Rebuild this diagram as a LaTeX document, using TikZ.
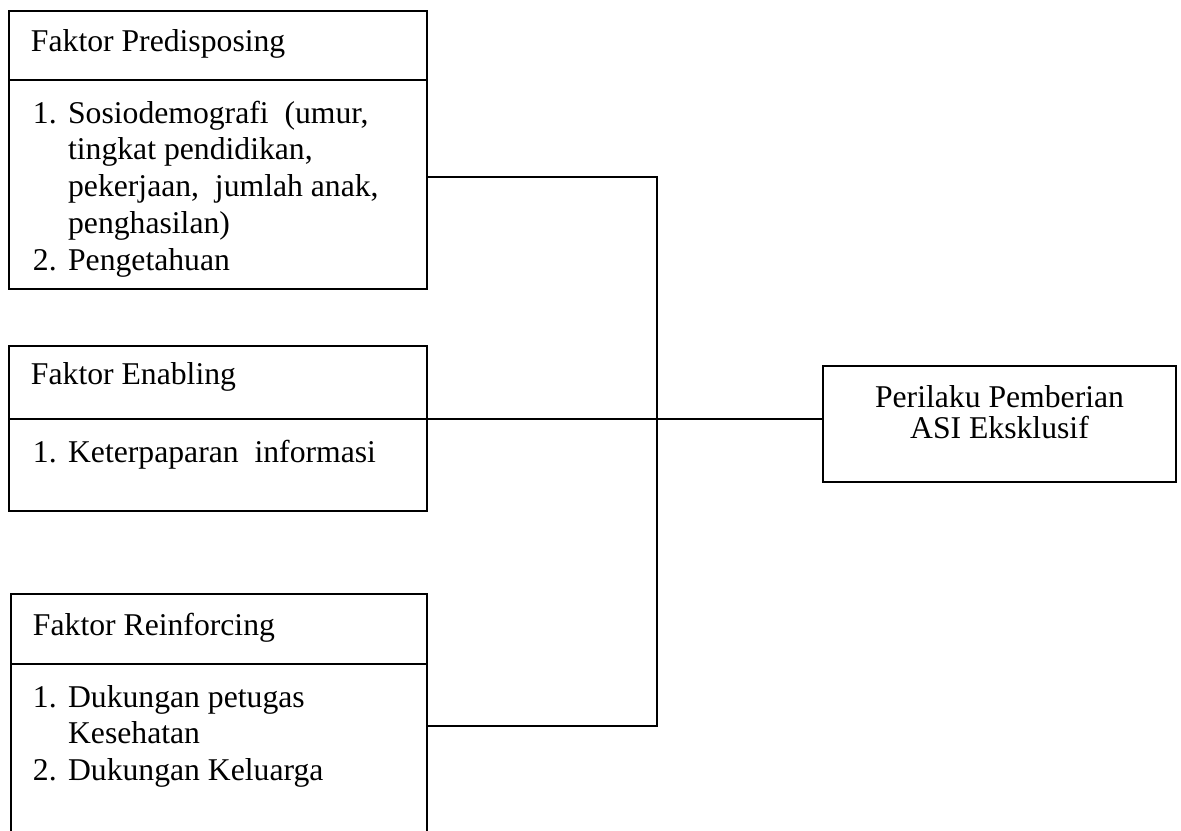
\documentclass[tikz,border=0pt]{standalone}
\usepackage{fontspec}
\setmainfont{Liberation Serif}
\usetikzlibrary{fit}

\newcommand{\nomor}[1]{\makebox[13.3pt][l]{#1}}

\begin{document}
\begin{tikzpicture}[x=0.3788pt, y=-0.3788pt, line width=0.75pt,
  font=\fontsize{12}{14}\selectfont,
  kotak/.style={draw, inner sep=0pt, fit={#1}},
  teks/.style={anchor=base west, inner sep=0pt}]
\useasboundingbox (0,0) rectangle (1181,830);
\clip (0,0) rectangle (1181,830);

\node [kotak={(9,11) (427,289)}] (pred) {};
\draw (pred.west |- 0,80) -- (pred.east |- 0,80);
\node [teks] (predJudul) at (30,51) {Faktor Predisposing};
\node [teks] (predIsi) at (32,123) {\begin{tabular}[t]{@{}l@{}}
  \nomor{1.}Sosiodemografi\ \ (umur,\\
  \nomor{}tingkat pendidikan,\\
  \nomor{}pekerjaan,\ \ jumlah anak,\\
  \nomor{}penghasilan)\\
  \nomor{2.}Pengetahuan
\end{tabular}};

\node [kotak={(9,346) (427,511)}] (enab) {};
\draw (enab.west |- 0,419) -- (enab.east |- 0,419);
\node [teks] (enabJudul) at (30,384) {Faktor Enabling};
\node [teks] (enabIsi) at (32,462) {\nomor{1.}Keterpaparan\ \ informasi};

\node [kotak={(11,594) (427,840)}] (reinf) {};
\draw (reinf.west |- 0,664) -- (reinf.east |- 0,664);
\node [teks] (reinfJudul) at (32,635) {Faktor Reinforcing};
\node [teks] (reinfIsi) at (32,707) {\begin{tabular}[t]{@{}l@{}}
  \nomor{1.}Dukungan petugas\\
  \nomor{}Kesehatan\\
  \nomor{2.}Dukungan Keluarga
\end{tabular}};

\node [kotak={(823,366) (1176,482)}] (perilaku) {};
\node [anchor=base, inner sep=0pt] (perilakuTeks) at (999.5,407)
  {\renewcommand{\arraystretch}{0.82}\begin{tabular}[t]{@{}c@{}}
  Perilaku Pemberian\\ ASI Eksklusif
\end{tabular}};

\coordinate (atas) at (657,177);
\coordinate (bawah) at (657,726);
\coordinate (tengah) at (657,419);
\draw (pred.east |- atas) -- (atas) -- (bawah) -- (reinf.east |- bawah);
\draw (enab.east |- tengah) -- (perilaku.west |- tengah);
\end{tikzpicture}
\end{document}
